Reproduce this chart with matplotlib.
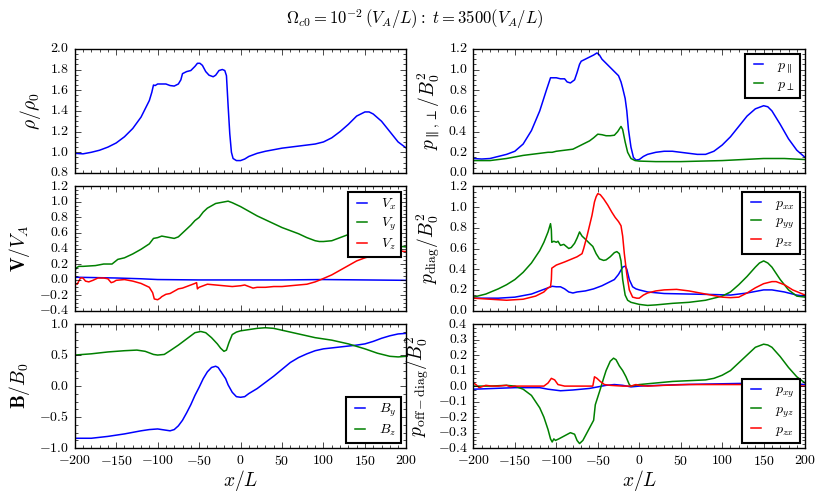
import numpy as np
import matplotlib
matplotlib.use('Agg')
import matplotlib.pyplot as plt
from matplotlib.ticker import MultipleLocator, AutoMinorLocator

plt.style.use('classic')
plt.rcParams['figure.facecolor'] = 'white'
plt.rcParams['savefig.facecolor'] = 'white'
plt.rcParams['font.family'] = 'serif'
plt.rcParams['font.serif'] = ['cmr10', 'DejaVu Serif']
plt.rcParams['mathtext.fontset'] = 'cm'
plt.rcParams['axes.formatter.use_mathtext'] = True
plt.rcParams['axes.unicode_minus'] = True
plt.rcParams['xtick.labelsize'] = 10
plt.rcParams['ytick.labelsize'] = 10
plt.rcParams['lines.linewidth'] = 1.1

# density
x_rho = [-200, -190, -180, -170, -160, -150, -140, -130, -120, -110, -107, -105, -103, -100,
         -95, -90, -85, -80, -75, -72, -70, -65, -60, -55, -52, -49, -46, -42, -38, -33, -30,
         -26, -22, -19, -17, -15, -13, -11, -9, -5, 0, 5, 10, 20, 30, 50, 70, 90, 100, 110,
         120, 130, 140, 150, 155, 160, 170, 180, 190, 200]
rho = [0.99, 0.985, 1.0, 1.02, 1.05, 1.09, 1.15, 1.23, 1.34, 1.50, 1.58, 1.65, 1.645, 1.66,
       1.66, 1.66, 1.645, 1.64, 1.66, 1.70, 1.76, 1.78, 1.79, 1.83, 1.86, 1.86, 1.84, 1.78,
       1.745, 1.73, 1.745, 1.79, 1.80, 1.79, 1.74, 1.45, 1.18, 1.00, 0.94, 0.92, 0.92, 0.935,
       0.96, 0.99, 1.01, 1.04, 1.06, 1.08, 1.10, 1.14, 1.20, 1.27, 1.35, 1.39, 1.39, 1.37,
       1.30, 1.20, 1.10, 1.04]

# velocity
x_vx = [-200, -150, -120, -100, -50, 0, 50, 100, 150, 200]
vx = [0.03, 0.02, 0.01, 0.0, -0.005, -0.005, -0.005, 0.0, -0.005, -0.01]
x_vy = [-200, -198, -195, -190, -175, -165, -155, -148, -140, -130, -120, -110, -105, -100,
        -95, -90, -85, -80, -75, -70, -60, -55, -50, -45, -40, -30, -20, -15, -10, 0, 10, 20,
        30, 40, 50, 60, 70, 80, 90, 95, 100, 110, 120, 130, 140, 150, 170, 190, 200]
vy = [0.11, 0.15, 0.17, 0.17, 0.18, 0.20, 0.20, 0.26, 0.28, 0.33, 0.39, 0.46, 0.53, 0.54,
      0.56, 0.55, 0.54, 0.53, 0.55, 0.60, 0.70, 0.76, 0.80, 0.87, 0.92, 0.98, 1.00, 1.01, 0.99,
      0.94, 0.88, 0.82, 0.77, 0.72, 0.67, 0.63, 0.59, 0.54, 0.50, 0.49, 0.49, 0.50, 0.54, 0.58,
      0.60, 0.58, 0.50, 0.43, 0.42]
x_vz = [-200, -197, -193, -190, -187, -183, -178, -172, -165, -160, -156, -153, -150, -140,
        -130, -120, -110, -106, -104, -100, -97, -95, -90, -85, -80, -75, -70, -60, -55, -53,
        -52, -50, -45, -40, -30, -20, -10, 0, 5, 10, 15, 20, 30, 40, 50, 60, 70, 80, 90, 97,
        110, 120, 130, 140, 150, 160, 170, 180, 190, 200]
vz = [-0.05, -0.06, 0.02, 0.02, -0.02, -0.03, -0.01, 0.02, 0.02, 0.01, -0.04, -0.03, -0.01,
      0.0, -0.02, -0.05, -0.10, -0.17, -0.25, -0.26, -0.24, -0.22, -0.19, -0.18, -0.15, -0.12,
      -0.11, -0.07, -0.05, -0.04, -0.12, -0.10, -0.08, -0.06, -0.07, -0.08, -0.09, -0.08,
      -0.07, -0.09, -0.11, -0.10, -0.10, -0.09, -0.09, -0.08, -0.07, -0.06, -0.03, 0.0, 0.06,
      0.12, 0.18, 0.24, 0.28, 0.31, 0.34, 0.36, 0.37, 0.36]

# magnetic field
x_by = [-200, -180, -160, -140, -120, -110, -100, -90, -85, -80, -75, -70, -65, -60, -55,
        -50, -45, -40, -35, -30, -27, -22, -18, -15, -10, -5, 0, 5, 10, 20, 30, 40, 50, 60,
        70, 80, 90, 100, 120, 140, 150, 160, 170, 180, 190, 200]
by = [-0.84, -0.84, -0.81, -0.77, -0.72, -0.70, -0.69, -0.71, -0.72, -0.70, -0.64, -0.55,
      -0.43, -0.30, -0.15, -0.02, 0.12, 0.23, 0.30, 0.32, 0.30, 0.20, 0.12, 0.02, -0.10,
      -0.17, -0.18, -0.17, -0.12, -0.04, 0.06, 0.16, 0.27, 0.38, 0.46, 0.52, 0.57, 0.60,
      0.63, 0.66, 0.68, 0.72, 0.77, 0.81, 0.84, 0.85]
x_bz = [-200, -180, -160, -140, -125, -115, -105, -100, -92, -85, -75, -65, -55, -48, -42,
        -35, -28, -24, -20, -17, -14, -10, -5, 0, 10, 20, 30, 40, 50, 70, 90, 110, 130, 140,
        150, 165, 180, 190, 200]
bz = [0.50, 0.52, 0.55, 0.57, 0.58, 0.56, 0.51, 0.50, 0.51, 0.57, 0.66, 0.76, 0.86, 0.88,
      0.86, 0.78, 0.68, 0.61, 0.56, 0.58, 0.70, 0.83, 0.87, 0.89, 0.91, 0.93, 0.94, 0.93,
      0.90, 0.84, 0.78, 0.74, 0.68, 0.64, 0.60, 0.53, 0.48, 0.47, 0.48]

# parallel / perpendicular pressure
x_ppar = [-200, -190, -180, -170, -160, -150, -140, -130, -120, -112, -107, -105, -100, -95,
          -90, -87, -83, -78, -75, -72, -70, -65, -60, -55, -51, -48, -45, -40, -35, -30,
          -25, -22, -20, -17, -15, -13, -10, -7, -4, 0, 5, 10, 20, 30, 40, 50, 60, 70, 80, 90,
          100, 110, 120, 130, 140, 150, 155, 160, 170, 180, 190, 200]
ppar = [0.14, 0.135, 0.14, 0.16, 0.18, 0.21, 0.28, 0.41, 0.60, 0.80, 0.92, 0.92, 0.92, 0.91,
        0.91, 0.88, 0.87, 0.90, 0.97, 1.05, 1.08, 1.10, 1.12, 1.14, 1.16, 1.14, 1.10, 1.06,
        1.02, 0.98, 0.94, 0.88, 0.82, 0.72, 0.60, 0.42, 0.25, 0.15, 0.125, 0.13, 0.16, 0.18,
        0.20, 0.21, 0.21, 0.20, 0.19, 0.18, 0.18, 0.21, 0.27, 0.35, 0.45, 0.55, 0.62, 0.65,
        0.64, 0.60, 0.47, 0.33, 0.22, 0.15]
x_pperp = [-200, -180, -160, -140, -120, -110, -105, -100, -90, -80, -70, -60, -55, -50, -45,
           -40, -35, -30, -26, -22, -20, -17, -14, -10, -5, 0, 20, 50, 100, 150, 175, 200]
pperp = [0.12, 0.12, 0.14, 0.17, 0.19, 0.20, 0.20, 0.21, 0.22, 0.23, 0.27, 0.31, 0.34,
         0.375, 0.37, 0.36, 0.36, 0.365, 0.40, 0.45, 0.42, 0.30, 0.20, 0.14, 0.12, 0.115,
         0.11, 0.11, 0.12, 0.14, 0.14, 0.13]

# diagonal pressure components
x_pxx = [-200, -170, -150, -130, -120, -110, -105, -100, -95, -90, -85, -80, -75, -65, -55,
         -45, -35, -30, -25, -20, -17, -15, -12, -8, -4, 0, 10, 30, 60, 90, 110, 130, 150,
         160, 175, 190, 200]
pxx = [0.12, 0.12, 0.13, 0.16, 0.19, 0.22, 0.235, 0.23, 0.23, 0.21, 0.18, 0.17, 0.18, 0.19,
       0.21, 0.24, 0.28, 0.30, 0.35, 0.42, 0.43, 0.40, 0.30, 0.23, 0.21, 0.20, 0.18, 0.165,
       0.16, 0.155, 0.15, 0.17, 0.20, 0.20, 0.18, 0.15, 0.14]
x_pyy = [-200, -185, -170, -160, -150, -140, -130, -120, -115, -110, -107, -106, -105.5,
         -103, -100, -98, -95, -91, -88, -85, -82, -78, -75, -72, -69, -65, -60, -56, -52,
         -48, -43, -40, -35, -30, -27, -24, -22, -20, -17, -14, -10, 0, 10, 20, 40, 60, 80,
         100, 110, 120, 130, 140, 145, 150, 155, 160, 170, 180, 190, 200]
pyy = [0.13, 0.16, 0.21, 0.25, 0.30, 0.37, 0.46, 0.58, 0.66, 0.76, 0.84, 0.78, 0.66, 0.67,
       0.66, 0.67, 0.63, 0.64, 0.62, 0.60, 0.61, 0.65, 0.70, 0.76, 0.72, 0.69, 0.65, 0.62,
       0.55, 0.50, 0.485, 0.49, 0.52, 0.56, 0.57, 0.55, 0.48, 0.30, 0.15, 0.10, 0.08, 0.06,
       0.05, 0.055, 0.07, 0.08, 0.10, 0.14, 0.18, 0.25, 0.33, 0.42, 0.46, 0.48, 0.46, 0.42,
       0.30, 0.20, 0.14, 0.13]
x_pzz = [-200, -180, -160, -140, -125, -115, -110, -107, -106, -105.5, -100, -90, -81, -75,
         -69, -67, -63, -60, -57, -54, -52, -50, -47, -43, -38, -33, -29, -25, -22, -20, -18,
         -15, -12, -8, -3, 0, 5, 10, 20, 30, 45, 60, 80, 100, 110, 120, 130, 140, 150, 160,
         165, 175, 185, 200]
pzz = [0.12, 0.11, 0.10, 0.11, 0.14, 0.18, 0.22, 0.23, 0.30, 0.41, 0.44, 0.47, 0.50, 0.52,
       0.55, 0.60, 0.72, 0.82, 0.92, 1.05, 1.10, 1.13, 1.12, 1.08, 1.02, 0.95, 0.90, 0.86,
       0.82, 0.72, 0.55, 0.35, 0.20, 0.13, 0.12, 0.12, 0.15, 0.17, 0.19, 0.20, 0.205, 0.19,
       0.16, 0.13, 0.125, 0.13, 0.17, 0.22, 0.26, 0.28, 0.28, 0.25, 0.20, 0.15]

# off-diagonal pressure components
x_pxy = [-200, -150, -120, -110, -95, -80, -60, -50, -40, -30, -20, -10, 0, 50, 100, 150,
         175, 200]
pxy = [-0.02, -0.01, -0.01, -0.02, -0.03, -0.025, -0.015, -0.005, 0.005, 0.01, 0.005,
       -0.005, 0.0, 0.01, 0.015, 0.02, 0.02, 0.01]
x_pyz = [-200, -180, -160, -150, -140, -130, -120, -115, -110, -107, -105, -103, -101, -97,
         -90, -83, -78, -75, -72, -68, -63, -58, -55, -53, -50, -47, -43, -40, -35, -31, -28,
         -24, -20, -16, -12, -10, 0, 20, 40, 60, 80, 90, 100, 110, 120, 130, 140, 150, 155,
         160, 170, 180, 190, 200]
pyz = [0.0, 0.0, 0.005, 0.0, -0.02, -0.06, -0.14, -0.20, -0.28, -0.34, -0.36, -0.34, -0.35,
       -0.34, -0.32, -0.30, -0.31, -0.35, -0.37, -0.35, -0.30, -0.25, -0.22, -0.12, -0.07,
       -0.02, 0.05, 0.10, 0.16, 0.18, 0.17, 0.13, 0.10, 0.06, 0.01, 0.0, 0.01, 0.02, 0.03,
       0.035, 0.04, 0.05, 0.07, 0.10, 0.15, 0.20, 0.25, 0.27, 0.265, 0.25, 0.19, 0.12, 0.06,
       0.02]
x_pzx = [-200, -197, -193, -185, -178, -170, -160, -155, -150, -130, -115, -110, -106, -102,
         -98, -90, -70, -56, -54, -51, -47, -42, -35, -20, -10, -4, 0, 10, 30, 60, 100, 150,
         200]
pzx = [0.02, 0.01, -0.01, 0.005, 0.0, 0.0, 0.005, -0.005, 0.0, 0.0, 0.0, 0.02, 0.05, 0.04,
       0.01, 0.0, 0.0, 0.0, 0.06, 0.05, 0.03, 0.01, 0.005, 0.0, 0.0, 0.01, 0.005, 0.0, 0.005,
       0.01, 0.01, 0.01, 0.0]

fig, axes = plt.subplots(3, 2, sharex=True, figsize=(8.3, 4.98), dpi=100)
fig.subplots_adjust(left=0.090, right=0.970, top=0.902, bottom=0.100,
                    wspace=0.202, hspace=0.108)

leg_kw = dict(fontsize=10, handlelength=1.3, borderpad=0.35, labelspacing=0.25,
              handletextpad=0.7, borderaxespad=0.4, fancybox=False)

ax = axes[0, 0]
ax.plot(x_rho, rho, 'b')
ax.set_ylim(0.8, 2.0)
ax.yaxis.set_major_locator(MultipleLocator(0.2))
ax.set_ylabel(r'$\rho/\rho_0$', fontsize=14)

ax = axes[1, 0]
ax.plot(x_vx, vx, 'b', label=r'$V_x$')
ax.plot(x_vy, vy, 'g', label=r'$V_y$')
ax.plot(x_vz, vz, 'r', label=r'$V_z$')
ax.set_ylim(-0.4, 1.2)
ax.yaxis.set_major_locator(MultipleLocator(0.2))
ax.set_ylabel(r'$\mathbf{V}/V_A$', fontsize=14)
ax.legend(loc='upper right', **leg_kw)

ax = axes[2, 0]
ax.plot(x_by, by, 'b', label=r'$B_y$')
ax.plot(x_bz, bz, 'g', label=r'$B_z$')
ax.set_ylim(-1.0, 1.0)
ax.yaxis.set_major_locator(MultipleLocator(0.5))
ax.set_ylabel(r'$\mathbf{B}/B_0$', fontsize=14)
ax.set_xlabel(r'$x/L$', fontsize=14, labelpad=0)
ax.legend(loc='lower right', **leg_kw)

ax = axes[0, 1]
ax.plot(x_ppar, ppar, 'b', label=r'$p_\parallel$')
ax.plot(x_pperp, pperp, 'g', label=r'$p_\perp$')
ax.set_ylim(0.0, 1.2)
ax.yaxis.set_major_locator(MultipleLocator(0.2))
ax.set_ylabel(r'$p_{\parallel,\perp}/B_0^2$', fontsize=14)
ax.legend(loc='upper right', **leg_kw)

ax = axes[1, 1]
ax.plot(x_pxx, pxx, 'b', label=r'$p_{xx}$')
ax.plot(x_pyy, pyy, 'g', label=r'$p_{yy}$')
ax.plot(x_pzz, pzz, 'r', label=r'$p_{zz}$')
ax.set_ylim(0.0, 1.2)
ax.yaxis.set_major_locator(MultipleLocator(0.2))
ax.set_ylabel(r'$p_{\rm diag}/B_0^2$', fontsize=14)
ax.legend(loc='upper right', **leg_kw)

ax = axes[2, 1]
ax.plot(x_pxy, pxy, 'b', label=r'$p_{xy}$')
ax.plot(x_pyz, pyz, 'g', label=r'$p_{yz}$')
ax.plot(x_pzx, pzx, 'r', label=r'$p_{zx}$')
ax.set_ylim(-0.4, 0.4)
ax.yaxis.set_major_locator(MultipleLocator(0.1))
ax.set_ylabel(r'$p_{\rm off-diag}/B_0^2$', fontsize=14)
ax.set_xlabel(r'$x/L$', fontsize=14, labelpad=0)
ax.legend(loc='lower right', **leg_kw)

for ax in axes.flat:
    ax.set_xlim(-200, 200)
    ax.xaxis.set_major_locator(MultipleLocator(50))
    ax.xaxis.set_minor_locator(AutoMinorLocator(5))
    ax.yaxis.set_minor_locator(AutoMinorLocator(4))
    ax.tick_params(which='both', direction='in', top=True, right=True)
    leg = ax.get_legend()
    if leg is not None:
        leg.get_frame().set_linewidth(1.5)

fig.suptitle(r'$\Omega_{c0}=10^{-2}\,(V_A/L):\ t=3500(V_A/L)$', fontsize=12, y=0.985)

fig.savefig('out.png', dpi=100)
